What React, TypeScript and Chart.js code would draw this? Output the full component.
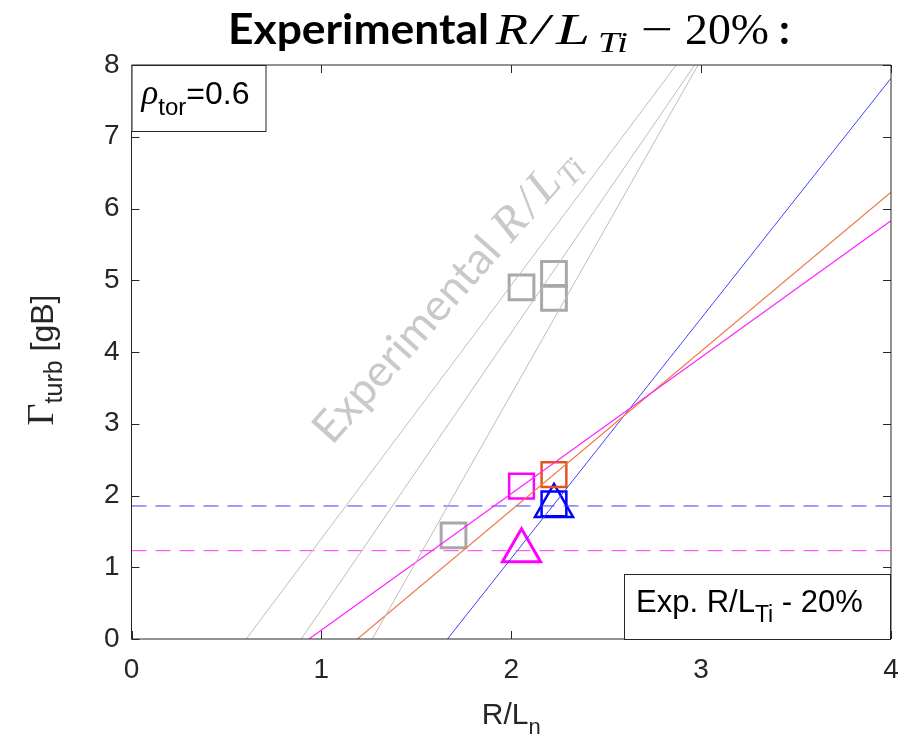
import React, { useEffect, useRef } from 'react';
import { Chart, registerables } from 'chart.js';
Chart.register(...registerables);

// ---- data ----
const xTicks = [0, 1, 2, 3, 4];
const yTicks = [0, 1, 2, 3, 4, 5, 6, 7, 8];

const grayLine1 = [{ x: 0.604, y: 0 }, { x: 2.869, y: 8 }];
const grayLine2 = [{ x: 0.894, y: 0 }, { x: 2.966, y: 8 }];
const grayLine3 = [{ x: 1.268, y: 0 }, { x: 2.984, y: 8 }];
const magentaLine = [{ x: 0.935, y: 0 }, { x: 4, y: 5.83 }];
const orangeLine = [{ x: 1.19, y: 0 }, { x: 4, y: 6.226 }];
const blueLine = [{ x: 1.664, y: 0 }, { x: 4, y: 7.815 }];
const blueDashed = [{ x: 0, y: 1.854 }, { x: 4, y: 1.854 }];
const magentaDashed = [{ x: 0, y: 1.231 }, { x: 4, y: 1.231 }];

const graySquares = [{ x: 2.054, y: 4.9 }, { x: 2.225, y: 5.09 }, { x: 2.225, y: 4.755 }, { x: 1.696, y: 1.445 }];
const magentaSquares = [{ x: 2.054, y: 2.13 }];
const orangeSquares = [{ x: 2.225, y: 2.29 }];
const blueSquares = [{ x: 2.225, y: 1.884 }];
const blueTriangles = [{ x: 2.225, y: 1.854 }];
const magentaTriangles = [{ x: 2.054, y: 1.231 }];

const AXIS = '#262626';
const SANS = '"Liberation Sans", Arial, sans-serif';
const SERIF = '"Liberation Serif", "Times New Roman", serif';

type Part = { t: string; f: string; dy?: number; w?: number; gap?: number; x?: number };

function drawRuns(ctx: CanvasRenderingContext2D, x: number, y: number, parts: Part[], measureOnly = false) {
  let cx = x;
  for (const p of parts) {
    if (p.x !== undefined) cx = p.x;
    cx += p.gap ?? 0;
    ctx.font = p.f;
    const m = ctx.measureText(p.t).width;
    const sx = p.w ? p.w / m : 1;
    if (!measureOnly) {
      ctx.save();
      ctx.translate(cx, y + (p.dy ?? 0));
      ctx.scale(sx, 1);
      ctx.fillText(p.t, 0, 0);
      ctx.restore();
    }
    cx += m * sx;
  }
  return cx - x;
}

const decor = {
  id: 'decor',
  beforeDatasetsDraw(chart: any) {
    const ctx: CanvasRenderingContext2D = chart.ctx;
    ctx.save();
    ctx.fillStyle = '#C9C9C9';
    ctx.textBaseline = 'alphabetic';
    ctx.translate(332, 446);
    ctx.rotate((-48.5 * Math.PI) / 180);
    drawRuns(ctx, 0, 0, [
      { t: 'Experimental', f: '44px Lato, sans-serif', w: 258 },
      { t: 'R', f: `italic 48px ${SERIF}`, gap: 12 },
      { t: '/', f: `italic 48px ${SERIF}`, gap: 5 },
      { t: 'L', f: `italic 48px ${SERIF}`, gap: 5 },
      { t: 'Ti', f: `italic 32px ${SERIF}`, dy: 8, gap: 2 },
    ]);
    ctx.restore();
  },
  afterDraw(chart: any) {
    const ctx: CanvasRenderingContext2D = chart.ctx;
    const a = chart.chartArea;
    const xs = chart.scales.x;
    const ys = chart.scales.y;
    ctx.save();
    // frame + inward ticks
    ctx.strokeStyle = AXIS;
    ctx.lineWidth = 1;
    ctx.beginPath();
    ctx.rect(a.left, a.top, a.right - a.left, a.bottom - a.top);
    const tl = 8;
    for (const v of xTicks) {
      const px = Math.round(xs.getPixelForValue(v)) + 0.5;
      ctx.moveTo(px, a.bottom); ctx.lineTo(px, a.bottom - tl);
      ctx.moveTo(px, a.top); ctx.lineTo(px, a.top + tl);
    }
    for (const v of yTicks) {
      const py = Math.round(ys.getPixelForValue(v)) + 0.5;
      ctx.moveTo(a.left, py); ctx.lineTo(a.left + tl, py);
      ctx.moveTo(a.right, py); ctx.lineTo(a.right - tl, py);
    }
    ctx.stroke();

    // legend box 1 (rho_tor)
    ctx.fillStyle = '#fff';
    ctx.fillRect(a.left, a.top, 134, 66);
    ctx.strokeRect(a.left + 0.5, a.top + 0.5, 134, 66);
    ctx.fillStyle = '#000';
    ctx.textBaseline = 'alphabetic';
    drawRuns(ctx, a.left + 10, a.top + 39, [
      { t: 'ρ', f: `italic 35px ${SERIF}` },
      { t: 'tor', f: `24px ${SANS}`, dy: 11 },
      { t: '=0.6', f: `32px ${SANS}` },
    ]);

    // legend box 2
    const bw = 267, bh = 65;
    ctx.fillStyle = '#fff';
    ctx.fillRect(a.right - bw, a.bottom - bh, bw, bh);
    ctx.strokeRect(a.right - bw + 0.5, a.bottom - bh + 0.5, bw - 1, bh);
    ctx.fillStyle = '#000';
    drawRuns(ctx, a.right - bw + 12, a.bottom - 27, [
      { t: 'Exp. R/L', f: `31px ${SANS}` },
      { t: 'Ti', f: `23px ${SANS}`, dy: 10 },
      { t: ' - 20%', f: `31px ${SANS}` },
    ]);

    // x axis title
    ctx.fillStyle = AXIS;
    const xParts: Part[] = [
      { t: 'R/L', f: `30px ${SANS}` },
      { t: 'n', f: `22px ${SANS}`, dy: 10 },
    ];
    const xw = drawRuns(ctx, 0, 0, xParts, true);
    drawRuns(ctx, (a.left + a.right) / 2 - xw / 2, 724, xParts);

    // y axis title
    ctx.save();
    ctx.translate(53, 360);
    ctx.rotate(-Math.PI / 2);
    const yParts: Part[] = [
      { t: 'Γ', f: `38px ${SERIF}` },
      { t: 'turb', f: `25px ${SANS}`, dy: 9 },
      { t: ' [gB]', f: `32px ${SANS}` },
    ];
    const yw = drawRuns(ctx, 0, 0, yParts, true);
    drawRuns(ctx, -yw / 2, 0, yParts);
    ctx.restore();

    // title
    ctx.fillStyle = '#000';
    drawRuns(ctx, 228, 44, [
      { t: 'Experimental', f: 'bold 42px Lato, sans-serif', w: 261, x: 228 },
      { t: 'R', f: `italic 44px ${SERIF}`, x: 496, w: 32 },
      { t: '/', f: `italic 44px ${SERIF}`, x: 532, w: 17 },
      { t: 'L', f: `italic 44px ${SERIF}`, x: 556, w: 34 },
      { t: 'Ti', f: `italic 30px ${SERIF}`, dy: 8, x: 598, w: 30 },
      { t: '−', f: `44px ${SERIF}`, x: 641, w: 32 },
      { t: '20%', f: `44px ${SERIF}`, x: 685, w: 84 },
      { t: ':', f: 'bold 42px Lato, sans-serif', x: 779 },
    ]);
    ctx.restore();
  },
};

function lineDs(data: any[], color: string, width = 1, dash: number[] = []) {
  return {
    data, showLine: true, borderColor: color, borderWidth: width, borderDash: dash,
    pointRadius: 0, fill: false, tension: 0,
  };
}
function markDs(data: any[], color: string, style: string, radius: number, width = 2.5) {
  return {
    data, showLine: false, pointStyle: style, pointRadius: radius, pointBorderColor: color,
    borderColor: color, pointBackgroundColor: 'rgba(0,0,0,0)', backgroundColor: 'rgba(0,0,0,0)',
    pointBorderWidth: width, borderWidth: width,
  };
}

export default function App() {
  const ref = useRef<HTMLCanvasElement>(null);
  useEffect(() => {
    const chart = new Chart(ref.current!, {
      type: 'scatter',
      data: {
        datasets: [
          lineDs(grayLine1, '#BDBDBD'),
          lineDs(grayLine2, '#BDBDBD'),
          lineDs(grayLine3, '#BDBDBD'),
          lineDs(magentaLine, '#FF22FF', 1.2),
          lineDs(orangeLine, '#EE7A48', 1.2),
          lineDs(blueLine, '#4040FF', 1),
          lineDs(blueDashed, '#3A3AFF', 1, [15, 9]),
          lineDs(magentaDashed, '#FF33FF', 1, [15, 9]),
          markDs(graySquares, '#A8A8A8', 'rect', 17.5, 3),
          markDs(magentaSquares, '#FF00FF', 'rect', 17.5),
          markDs(orangeSquares, '#E2541C', 'rect', 17.5),
          markDs(blueSquares, '#0000FF', 'rect', 17.5),
          markDs(blueTriangles, '#0000FF', 'triangle', 22),
          markDs(magentaTriangles, '#FF00FF', 'triangle', 22, 3),
        ] as any,
      },
      options: {
        responsive: false,
        animation: false,
        events: [],
        layout: { autoPadding: false, padding: { top: 65, right: 16, left: 0, bottom: 0 } },
        plugins: { legend: { display: false }, tooltip: { enabled: false }, title: { display: false } },
        scales: {
          x: {
            type: 'linear', min: 0, max: 4,
            afterBuildTicks: (s: any) => { s.ticks = xTicks.map((v) => ({ value: v })); },
            afterFit: (s: any) => { s.height = 102; s.paddingLeft = 0; s.paddingRight = 0; },
            grid: { display: false, drawTicks: false },
            border: { display: false },
            ticks: { padding: 14, color: AXIS, font: { size: 28, family: SANS } },
          },
          y: {
            type: 'linear', min: 0, max: 8,
            afterBuildTicks: (s: any) => { s.ticks = yTicks.map((v) => ({ value: v })); },
            afterFit: (s: any) => { s.width = 131.5; s.paddingTop = 0; s.paddingBottom = 0; },
            grid: { display: false, drawTicks: false },
            border: { display: false },
            ticks: { padding: 12, color: AXIS, font: { size: 28, family: SANS } },
          },
        },
      } as any,
      plugins: [decor],
    });
    return () => chart.destroy();
  }, []);
  return (
    <div style={{ position: 'fixed', left: 0, top: 0, width: 907, height: 741, background: '#fff' }}>
      <canvas ref={ref} width={907} height={741} style={{ display: 'block' }} />
    </div>
  );
}
